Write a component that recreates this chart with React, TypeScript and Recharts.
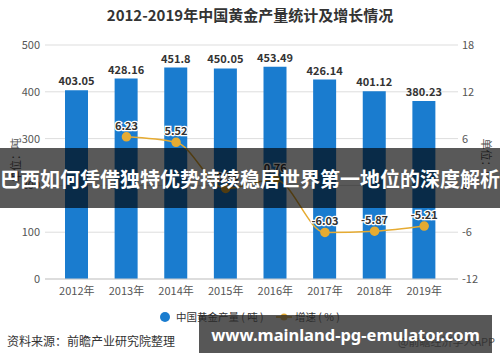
import React from "react";
import {
  ComposedChart, Bar, Line, XAxis, YAxis, CartesianGrid, LabelList,
} from "recharts";

const YEARS = ["2012年", "2013年", "2014年", "2015年", "2016年", "2017年", "2018年", "2019年"];
const OUTPUT = [403.05, 428.16, 451.8, 450.05, 453.49, 426.14, 401.12, 380.23];
const GROWTH: (number | null)[] = [null, 6.23, 5.52, -0.39, 0.76, -6.03, -5.87, -5.21];
const LEFT_TICKS = [0, 100, 200, 300, 400, 500];
const RIGHT_TICKS = [-12, -6, 0, 6, 12, 18];

const data = YEARS.map((year, i) => ({ year, output: OUTPUT[i], growth: GROWTH[i] }));

const BLUE = "#1a7ccf";
const GOLD = "#e6ab32";
const FONT = "'Noto Sans CJK SC', 'Noto Sans', sans-serif";

const tick = { fontSize: 11, fill: "#555", fontFamily: FONT };

function LegendBox() {
  return (
    <div style={{ position: "absolute", left: 0, top: 309, width: 500, height: 16, fontSize: 10.5, color: "#333", fontFamily: FONT }}>
      <span style={{ position: "absolute", left: 160, top: 3, width: 10, height: 10, borderRadius: 5, background: BLUE }} />
      <span style={{ position: "absolute", left: 176, top: 0, whiteSpace: "nowrap" }}>中国黄金产量 ( 吨 )</span>
      <svg width={16} height={10} style={{ position: "absolute", left: 276, top: 3 }}>
        <line x1={0} y1={5} x2={16} y2={5} stroke={GOLD} strokeWidth={2} />
        <circle cx={8} cy={5} r={3.5} fill={GOLD} />
      </svg>
      <span style={{ position: "absolute", left: 295, top: 0, whiteSpace: "nowrap" }}>增速 ( % )</span>
    </div>
  );
}

export default function App() {
  return (
    <div style={{ position: "absolute", left: 0, top: 0, width: 500, height: 362, background: "#fff", overflow: "hidden", fontFamily: FONT }}>
      <div style={{ position: "absolute", left: 0, top: 4, width: 500, textAlign: "center", fontSize: 15, fontWeight: 700, color: "#333" }}>
        2012-2019年中国黄金产量统计及增长情况
      </div>
      <ComposedChart width={500} height={362} data={data} margin={{ top: 45, right: 0, bottom: 0, left: 0 }}>
        <CartesianGrid horizontal vertical={false} stroke="#ddd" yAxisId="left" />
        <XAxis dataKey="year" tick={tick} tickLine={false} axisLine={{ stroke: "#ccc" }} padding={{ left: 7, right: 9 }} height={83} />
        <YAxis yAxisId="left" domain={[0, 500]} ticks={LEFT_TICKS} tick={tick} tickLine={false} axisLine={false} width={45} tickSize={3} />
        <YAxis yAxisId="right" orientation="right" domain={[-12, 18]} ticks={RIGHT_TICKS} tick={tick} tickLine={false} axisLine={false} width={42} tickSize={2} />
        <Bar yAxisId="left" dataKey="output" fill={BLUE} barSize={23} isAnimationActive={false}>
          <LabelList dataKey="output" position="top" offset={5} style={{ fontSize: 11, fontWeight: 700, fill: "#333", fontFamily: FONT }} />
        </Bar>
        <Line yAxisId="right" dataKey="growth" type="monotone" stroke={GOLD} strokeWidth={1.5} dot={{ r: 4, fill: GOLD, stroke: GOLD }} isAnimationActive={false} connectNulls={false}>
          <LabelList dataKey="growth" position="top" offset={7} style={{ fontSize: 11, fontWeight: 700, fill: "#333", stroke: "#fff", strokeWidth: 2.5, paintOrder: "stroke", fontFamily: FONT }} />
        </Line>
      </ComposedChart>
      <LegendBox />
      <div style={{ position: "absolute", left: 15, top: 160, transform: "translate(-50%, -50%) rotate(-90deg)", fontSize: 11, color: "#555", whiteSpace: "nowrap" }}>
        单位：吨
      </div>
      <div style={{ position: "absolute", left: 487, top: 160, transform: "translate(-50%, -50%) rotate(90deg)", fontSize: 11, color: "#555", whiteSpace: "nowrap" }}>
        单位：%
      </div>
      <div style={{ position: "absolute", left: 7, top: 332, fontSize: 12, color: "#333" }}>
        资料来源：前瞻产业研究院整理
      </div>
      <div style={{ position: "absolute", left: 398, top: 333, fontSize: 11, color: "#666", whiteSpace: "nowrap" }}>
        @前瞻经济学人APP
      </div>
      <div style={{ position: "absolute", left: 0, top: 148, width: 500, height: 60, background: "rgba(0,0,0,0.65)", display: "flex", alignItems: "center", justifyContent: "center", color: "#fff", fontSize: 20, fontWeight: 700, whiteSpace: "nowrap" }}>
        巴西如何凭借独特优势持续稳居世界第一地位的深度解析
      </div>
      <div style={{ position: "absolute", left: 199, top: 315, width: 293, height: 38, background: "rgba(40,40,40,0.78)", display: "flex", alignItems: "center", justifyContent: "center", color: "#fff", fontSize: 16.5, fontWeight: 700, whiteSpace: "nowrap", fontFamily: "'Noto Sans', 'Open Sans', sans-serif" }}>
        www.mainland-pg-emulator.com
      </div>
    </div>
  );
}
